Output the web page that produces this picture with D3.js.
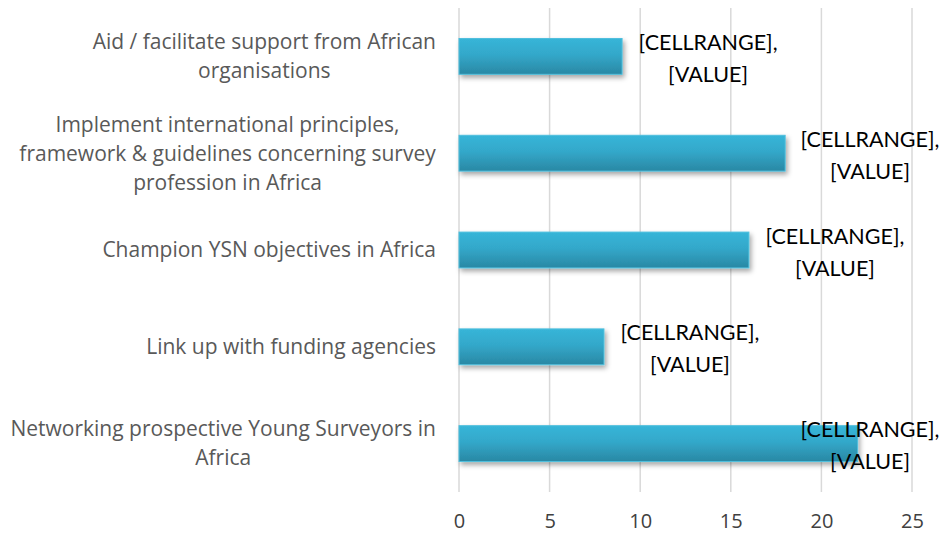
<!DOCTYPE html>
<html>
<head>
<meta charset="utf-8">
<script src="https://cdn.jsdelivr.net/npm/d3@7"></script>
<style>
  html, body { margin: 0; padding: 0; background: #fff; }
  #chart { width: 948px; height: 535px; }
</style>
</head>
<body>
<div id="chart"></div>
<script>
// Chart data
const categories = [
    'Aid / facilitate support from African\norganisations',
    'Implement international principles,\nframework & guidelines concerning survey\nprofession in Africa',
    'Champion YSN objectives in Africa',
    'Link up with funding agencies',
    'Networking prospective Young Surveyors in\nAfrica'
];
const values = [9, 18, 16, 8, 22];
const dataLabels = ['[CELLRANGE],', '[VALUE]'];
const xTicks = [0, 5, 10, 15, 20, 25];

const width = 948;
const height = 535;
const margin = { top: 8, right: 36, bottom: 43, left: 459 };

const svg = d3.select('#chart')
    .append('svg')
    .attr('width', width)
    .attr('height', height);

// Gradient + shadow
const defs = svg.append('defs');
const grad = defs.append('linearGradient')
    .attr('id', 'bar-gradient')
    .attr('x1', '0%').attr('y1', '0%')
    .attr('x2', '0%').attr('y2', '100%');
grad.append('stop').attr('offset', '0%').attr('stop-color', '#37b5d8');
grad.append('stop').attr('offset', '45%').attr('stop-color', '#33a8ca');
grad.append('stop').attr('offset', '100%').attr('stop-color', '#2a88a4');

const shadow = defs.append('filter')
    .attr('id', 'bar-shadow')
    .attr('x', '-5%').attr('y', '-20%')
    .attr('width', '115%').attr('height', '160%');
shadow.append('feDropShadow')
    .attr('dx', 2).attr('dy', 3)
    .attr('stdDeviation', 2.5)
    .attr('flood-color', '#000')
    .attr('flood-opacity', 0.35);

const x = d3.scaleLinear()
    .domain([0, 25])
    .range([margin.left, width - margin.right]);

const y = d3.scaleBand()
    .domain(categories)
    .range([margin.top, height - margin.bottom])
    .paddingInner(0.63)
    .paddingOuter(0.315);

// Gridlines
svg.append('g')
    .selectAll('line')
    .data(xTicks)
    .join('line')
    .attr('x1', d => x(d))
    .attr('x2', d => x(d))
    .attr('y1', margin.top)
    .attr('y2', height - margin.bottom)
    .attr('stroke', '#d9d9d9')
    .attr('stroke-width', 1.5);

// X axis labels
const xAxis = svg.append('g')
    .attr('transform', `translate(0,${height - margin.bottom})`)
    .call(d3.axisBottom(x).tickValues(xTicks).tickSize(0).tickPadding(22));
xAxis.select('.domain').remove();
xAxis.selectAll('text')
    .attr('font-family', '"Open Sans", sans-serif')
    .attr('font-size', 20)
    .attr('fill', '#404040');

// Bars
svg.append('g')
    .selectAll('rect')
    .data(values)
    .join('rect')
    .attr('x', x(0))
    .attr('y', (d, i) => y(categories[i]))
    .attr('width', d => x(d) - x(0))
    .attr('height', y.bandwidth())
    .attr('fill', 'url(#bar-gradient)')
    .attr('stroke', '#4fbfdd')
    .attr('stroke-width', 1)
    .attr('filter', 'url(#bar-shadow)');

// Category labels
const catGroup = svg.append('g');
categories.forEach((cat, i) => {
    const lines = cat.split('\n');
    const cy = y(cat) + y.bandwidth() / 2;
    const lineH = 29;
    const t = catGroup.append('text')
        .attr('font-family', '"Open Sans", sans-serif')
        .attr('font-size', 21)
        .attr('fill', '#595959')
        .attr('text-anchor', 'middle');
    lines.forEach((ln, j) => {
        t.append('tspan')
            .attr('x', 0)
            .attr('y', cy + (j - (lines.length - 1) / 2) * lineH)
            .attr('dy', '0.35em')
            .text(ln);
    });
    // right align the block at 436
    const w = t.node().getBBox().width;
    t.selectAll('tspan').attr('x', 436 - w / 2);
});

// Data labels
const lblGroup = svg.append('g');
values.forEach((v, i) => {
    const cy = y(categories[i]) + y.bandwidth() / 2;
    let cx = x(v) + 86;
    cx = Math.min(cx, 870);
    const t = lblGroup.append('text')
        .attr('font-family', 'Lato, sans-serif')
        .attr('font-size', 21.5)
        .attr('fill', '#000')
        .attr('text-anchor', 'middle');
    dataLabels.forEach((ln, j) => {
        t.append('tspan')
            .attr('x', cx)
            .attr('y', cy + (j === 0 ? -14 : 18))
            .attr('dy', '0.35em')
            .text(ln);
    });
});
</script>
</body>
</html>
